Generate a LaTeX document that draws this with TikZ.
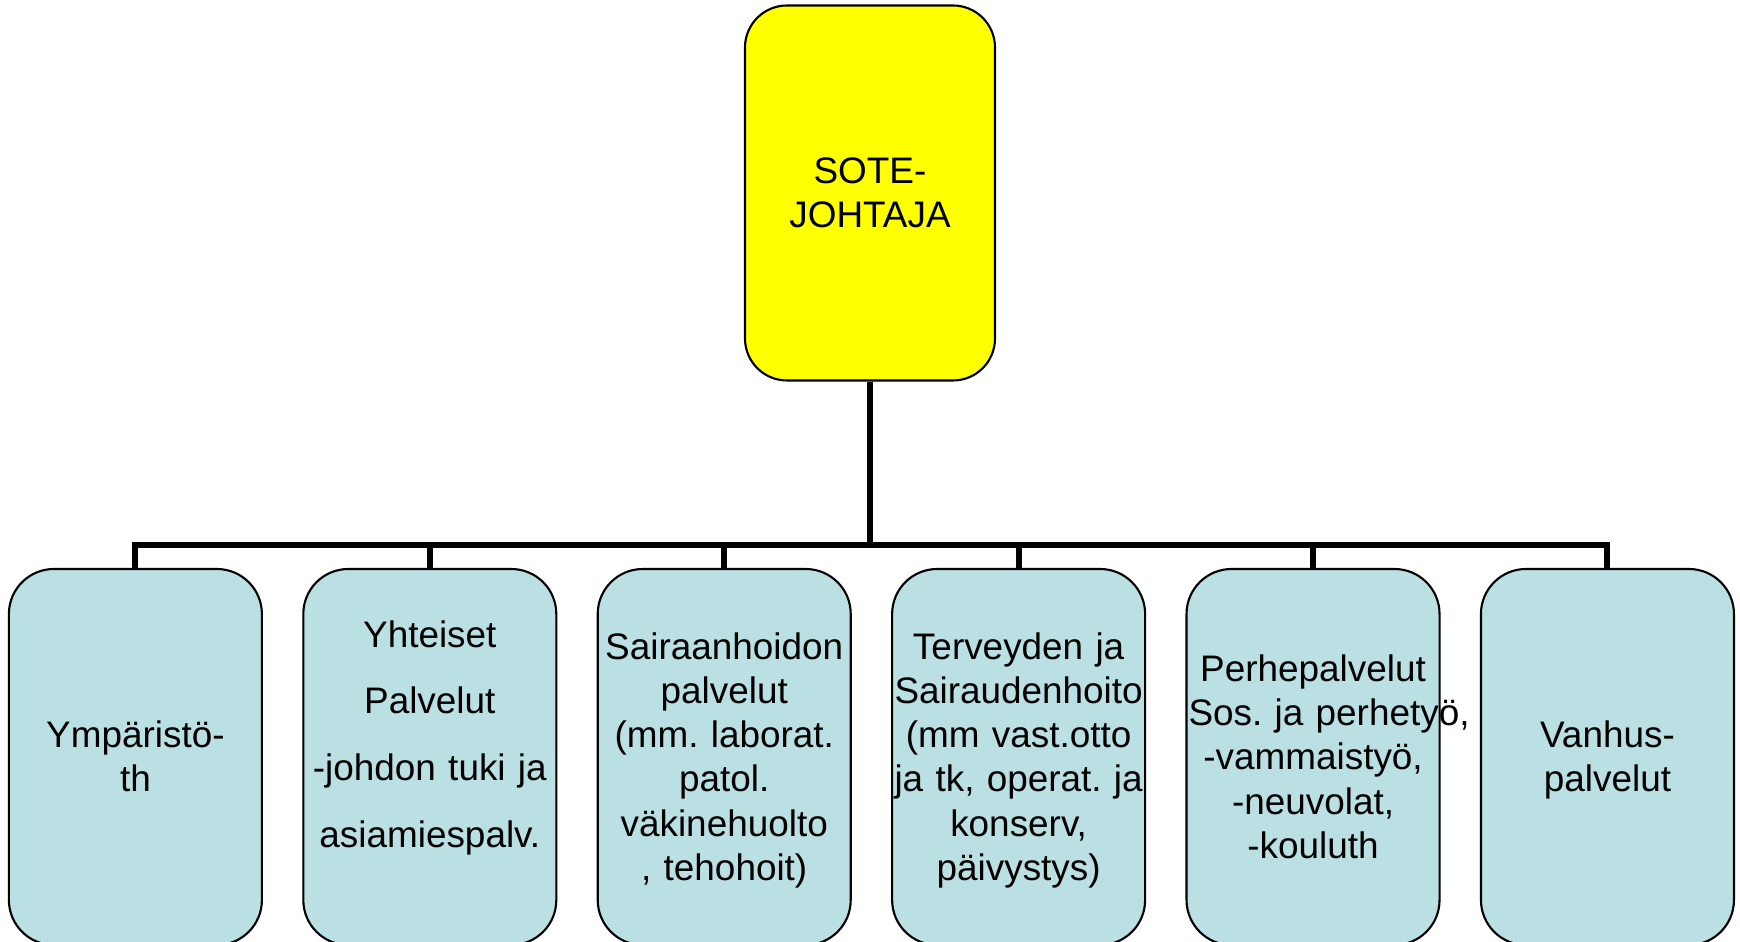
\documentclass[tikz,border=0pt]{standalone}
\usepackage{fontspec}
\setmainfont{Liberation Sans}
\usepackage{tikz}
\usetikzlibrary{positioning}
\definecolor{bossyellow}{HTML}{FFFF00}
\definecolor{unitblue}{HTML}{BBE0E3}
\tikzset{
  link/.style={line width=1.7pt,draw=black},
  slidetext/.style={font={\fontsize{10.5}{12.6}\selectfont\frenchspacing},
    execute at begin node={\rule{0pt}{0.905em}},
    execute at end node={\rule[-0.212em]{0pt}{0pt}}},
}

\begin{document}
\begin{tikzpicture}[
        boss/.style={rectangle,rounded corners=0.42cm, draw=black, line width=0.6pt,
        minimum height=3.75cm, minimum width=2.50cm, text width=2.46cm, inner sep=0.02cm,
        align=center, fill=bossyellow, slidetext },
        unit/.style={rectangle,rounded corners=0.45cm, draw=black, line width=0.6pt,
        minimum height=3.76cm, minimum width=2.53cm, text width=2.49cm, inner sep=0.02cm,
        align=center, fill=unitblue, slidetext },
        node distance=0.393cm
        ]
        \useasboundingbox (0,0) rectangle (17.4,-9.42);
        \clip (0,0) rectangle (17.4,-9.42);

        \node[boss] (boss) at (8.70,-1.93) {SOTE-\\JOHTAJA};

        \node[unit] (u1) at (1.354,-7.57) {Ympäristö-\\th};
        \node[unit, right=of u1] (u2) {Yhteiset\\[6.35pt]Palvelut\\[6.35pt]-johdon tuki ja\\[6.35pt]asiamiespalv.\rule[-0.53cm]{0pt}{0pt}};
        \node[unit, right=of u2] (u3) {Sairaanhoidon\\palvelut\\ (mm. laborat.\\patol.\\väkinehuolto\\, tehohoit)};
        \node[unit, right=of u3] (u4) {Terveyden ja\\Sairaudenhoito\\(mm vast.otto\\\mbox{ja tk, operat. ja}\\konserv,\\päivystys)};
        \node[unit, right=of u4] (u5) {Perhepalvelut\\\mbox{Sos. ja perhetyö,}\\-vammaistyö,\\-neuvolat,\\-kouluth};
        \node[unit, right=of u5] (u6) {Vanhus-\\palvelut};

        \coordinate[below=1.632cm of boss.south] (hub);

        \draw[link] (boss.south) -- (hub);
        \draw[link] (hub) -| (u1.north);
        \draw[link] (hub) -| (u2.north);
        \draw[link] (hub) -| (u3.north);
        \draw[link] (hub) -| (u4.north);
        \draw[link] (hub) -| (u5.north);
        \draw[link] (hub) -| (u6.north);

\end{tikzpicture}
\end{document}
